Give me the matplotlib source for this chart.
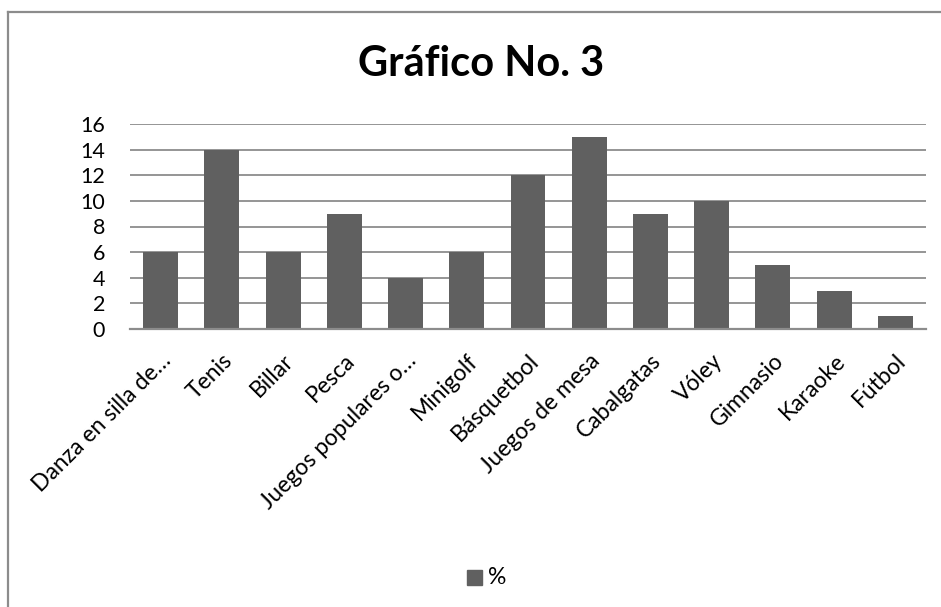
import matplotlib
matplotlib.use("Agg")
import matplotlib.pyplot as plt
from matplotlib.lines import Line2D
from matplotlib.patches import Rectangle

# ------------------------------------------------------------------ data
categories = [
    "Danza en silla de…", "Tenis", "Billar", "Pesca", "Juegos populares o…",
    "Minigolf", "Básquetbol", "Juegos de mesa", "Cabalgatas", "Vóley",
    "Gimnasio", "Karaoke", "Fútbol",
]
values = [6, 14, 6, 9, 4, 6, 12, 15, 9, 10, 5, 3, 1]
yticks = [0, 2, 4, 6, 8, 10, 12, 14, 16]
series_name = "%"
title = "Gráfico No. 3"

BAR = "#606060"
GRID = "#8c8c8c"
W, H = 941, 607

plt.rcParams["font.family"] = ["Lato", "DejaVu Sans"]

fig = plt.figure(figsize=(W / 100, H / 100), dpi=100)

# chart frame (only left and top edges visible in the crop)
fig.add_artist(Line2D([8 / W, 8 / W], [0, 1 - 12 / H], color=GRID, lw=1.6,
                      transform=fig.transFigure))
fig.add_artist(Line2D([8 / W, 1], [1 - 12 / H, 1 - 12 / H], color=GRID, lw=1.6,
                      transform=fig.transFigure))

ax = fig.add_axes([130 / W, (H - 329) / H, 796 / W, 205 / H])
x = range(len(categories))
ax.bar(x, values, width=0.57, color=BAR, zorder=3)
ax.set_xlim(-0.5, len(categories) - 0.5)
ax.set_ylim(0, 16)
ax.set_yticks(yticks)
ax.set_yticklabels([str(t) for t in yticks], fontsize=15.5)
ax.yaxis.grid(True, color=GRID, lw=1.3, zorder=0)
ax.set_xticks(list(x))
ax.set_xticklabels(categories, rotation=45, ha="right", rotation_mode="anchor",
                   fontsize=16.5)
ax.tick_params(length=0)
ax.tick_params(axis="y", pad=18)
ax.tick_params(axis="x", pad=15)
for s in ("top", "right", "left"):
    ax.spines[s].set_visible(False)
ax.spines["bottom"].set_color(GRID)
ax.spines["bottom"].set_linewidth(1.6)
ax.spines["bottom"].set_zorder(4)

fig.text(481 / W, 1 - 76 / H, title, ha="center", va="baseline",
         fontsize=30, fontweight="bold")

# legend
fig.add_artist(Rectangle((467 / W, 1 - 585 / H), 15 / W, 15 / H, color=BAR,
                         transform=fig.transFigure))
fig.text(488 / W, 1 - 578 / H, series_name, ha="left", va="center", fontsize=16.5)

fig.savefig("out.png", dpi=100, facecolor="white")
